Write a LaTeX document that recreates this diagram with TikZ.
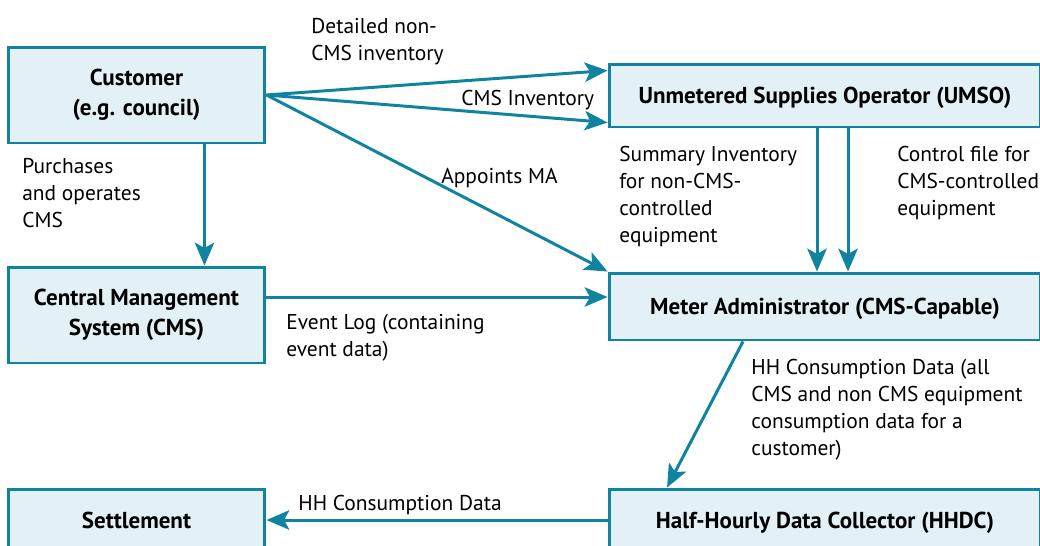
\documentclass[tikz,border=0pt]{standalone}
\usepackage{fontspec}
\setmainfont{PT Sans}
\usepackage{tikz}
\usetikzlibrary{arrows.meta,calc}

\definecolor{flowline}{RGB}{16,131,161}
\definecolor{boxfill}{RGB}{227,241,246}

\tikzset{
  box/.style={draw=flowline, fill=boxfill, line width=1.7pt, align=center,
    font=\bfseries\fontsize{13.1}{17}\selectfont, inner sep=0pt},
  onebox/.style={box, minimum width=8.64cm, text depth=0pt},
  flow/.style={draw=flowline, line width=1.7pt,
    -{Stealth[length=13pt,width=11pt,inset=3pt]}},
  lbl/.style={anchor=north west, align=left, inner sep=0pt,
    font=\fontsize{12.2}{15.3}\selectfont}
}

\begin{document}
\begin{tikzpicture}[x=0.02cm,y=-0.02cm]
  \useasboundingbox (0,0) rectangle (1040,545);

  % boxes
  \node[box, minimum width=5.14cm, minimum height=1.92cm] (cust) at (136.5,95) {Customer\\(e.g. council)};
  \node[box, minimum width=5.14cm, minimum height=1.92cm] (cms) at (136.5,315) {Central Management\\System (CMS)};
  \node[box, minimum width=5.14cm, minimum height=1.24cm, text depth=0pt] (settle) at (136.5,520) {Settlement};
  \node[onebox, minimum height=1.26cm] (umso) at (825,95.5) {Unmetered Supplies Operator (UMSO)};
  \node[onebox, minimum height=1.34cm] (ma) at (825,306.5) {Meter Administrator (CMS-Capable)};
  \node[onebox, minimum height=1.24cm] (hhdc) at (825,520) {Half-Hourly Data Collector (HHDC)};

  % arrows
  \draw[flow] (cust.east) -- ($(umso.west)+(0,-25)$);
  \draw[flow] (cust.east) -- ($(umso.west)+(0,27)$);
  \draw[flow] (cust.east) -- (ma.north west);
  \draw[flow] ([xshift=1.36cm]cust.south) -- ([xshift=1.36cm]cms.north);
  \draw[flow] ([yshift=0.36cm]cms.east) coordinate (el) -- (el -| ma.west);
  \draw[flow] ([xshift=-0.16cm]umso.south) coordinate (si) -- (si |- ma.north);
  \draw[flow] ([xshift=0.46cm]umso.south) coordinate (cf) -- (cf |- ma.north);
  \draw[flow] ([xshift=-1.64cm]ma.south) -- ([xshift=-3.16cm]hhdc.north);
  \draw[flow] (hhdc.west) -- (settle.east);

  % label
  \node[lbl] (ldet) at (311,18) {Detailed non-\\CMS inventory};
  \node[lbl] (lcms) at (461,90) {CMS Inventory};
  \node[lbl] (lapp) at (441,168) {Appoints MA};
  \node[lbl] (lpur) at (22,158) {Purchases\\and operates\\CMS};
  \node[lbl] (levt) at (286,314) {Event Log (containing\\event data)};
  \node[lbl] (lsum) at (619,146) {Summary Inventory\\for non-CMS-\\controlled\\equipment};
  \node[lbl] (lctl) at (897,146) {Control file for\\CMS-controlled\\equipment};
  \node[lbl] (lhh) at (751,359) {HH Consumption Data (all\\CMS and non CMS equipment\\consumption data for a\\customer)};
  \node[lbl] (lset) at (298,495) {HH Consumption Data};
\end{tikzpicture}
\end{document}
